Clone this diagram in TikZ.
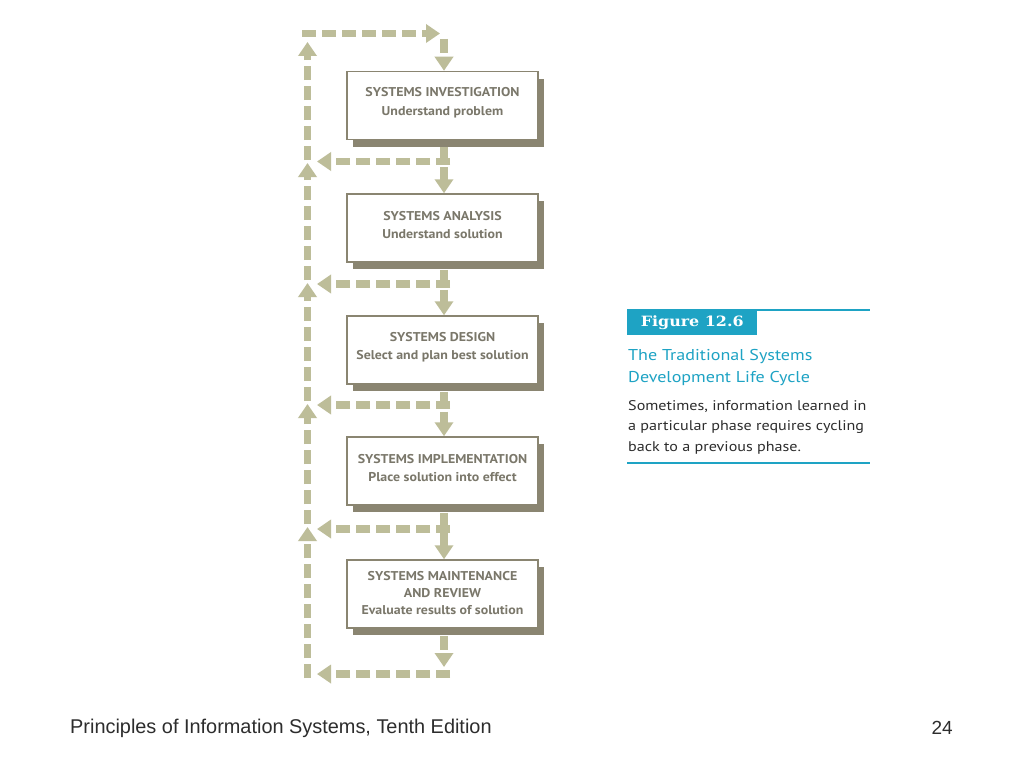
\documentclass[tikz,border=0pt]{standalone}
\usepackage{fontspec}
\setmainfont{PT Sans}
\newfontfamily\boxfont[FakeStretch=1.09]{PT Sans}
\newfontfamily\panelfont[FakeStretch=1.15]{PT Sans}
\newfontfamily\figfont[FakeStretch=1.12]{DejaVu Serif}
\newfontfamily\footfont{Liberation Sans}
\usetikzlibrary{arrows.meta,shadows}
\definecolor{flowc}{RGB}{189,189,153}
\definecolor{boxc}{RGB}{138,133,113}
\definecolor{txtc}{RGB}{122,119,106}
\definecolor{tealc}{RGB}{30,163,196}
\definecolor{bodyc}{RGB}{45,45,45}
\begin{document}
\begin{tikzpicture}[x=1pt,y=-1pt,
  flow/.style={draw=flowc,line width=7.5pt,dash pattern=on 14pt off 6pt,
    -{Triangle[width=18pt,length=14pt,fill=flowc]}},
  phase/.style={draw=boxc,line width=1.5pt,fill=white,minimum width=191pt,
    minimum height=68pt,inner sep=0pt,
    drop shadow={shadow xshift=6pt,shadow yshift=-7pt,fill=boxc,opacity=1}},
  phasetext/.style={inner sep=0pt,align=center,text=txtc,
    font=\boxfont\bfseries\fontsize{12.75}{18.5}\selectfont},
  panel/.style={anchor=base west,inner sep=0pt},
  rule/.style={draw=tealc}
  ]
\useasboundingbox (0,0) rectangle (1024,768);
\fill[white] (0,0) rectangle (1024,768);

% phase boxes
\node[phase] (b1) at (442.5,105.5) {};
\node[phase] (b2) at (442.5,228) {};
\node[phase] (b3) at (442.5,350) {};
\node[phase] (b4) at (442.5,471) {};
\node[phase] (b5) at (442.5,594) {};
\node[phasetext] (x1) at ([yshift=3pt]b1.center) {SYSTEMS INVESTIGATION\\Understand problem};
\node[phasetext] (x2) at ([yshift=3pt]b2.center) {SYSTEMS ANALYSIS\\Understand solution};
\node[phasetext] (x3) at ([yshift=3pt]b3.center) {SYSTEMS DESIGN\\Select and plan best solution};
\node[phasetext] (x4) at ([yshift=3pt]b4.center) {SYSTEMS IMPLEMENTATION\\Place solution into effect};
\node[phasetext] (x5) at ([yshift=1pt]b5.center) {SYSTEMS MAINTENANCE\\[-1.5pt]AND REVIEW\\[-1pt]Evaluate results of solution};

% coordinates of the loop
\coordinate (tl) at (302,33.5);
\coordinate (tr) at (440,33.5);
\coordinate (td) at (444,39);
\coordinate (bd) at (444,667);
\foreach \i/\y in {1/161.5,2/284,3/405,4/529,5/674}{
  \coordinate (hr\i) at (450,\y);
  \coordinate (hl\i) at (317,\y);
}
\coordinate (v5s) at (307.5,678);
\coordinate (v5e) at (307.5,527);
\coordinate (v4s) at (307.5,524);
\coordinate (v4e) at (307.5,404);
\coordinate (v3s) at (307.5,401);
\coordinate (v3e) at (307.5,283);
\coordinate (v2s) at (307.5,280);
\coordinate (v2e) at (307.5,163);
\coordinate (v1s) at (307.5,160);
\coordinate (v1e) at (307.5,42);

% forward flow
\draw[flow] (tl) -- (tr);
\draw[flow] (td) -- ([xshift=1.5pt]b1.north);
\draw[flow] ([xshift=1.5pt,yshift=-7pt]b1.south) -- ([xshift=1.5pt]b2.north);
\draw[flow] ([xshift=1.5pt,yshift=-7pt]b2.south) -- ([xshift=1.5pt]b3.north);
\draw[flow] ([xshift=1.5pt,yshift=-7pt]b3.south) -- ([xshift=1.5pt]b4.north);
\draw[flow] ([xshift=1.5pt,yshift=-7pt]b4.south) -- ([xshift=1.5pt]b5.north);
\draw[flow] ([xshift=1.5pt,yshift=-7pt]b5.south) -- (bd);

% feedback flow
\foreach \i in {1,...,5}{ \draw[flow] (hr\i) -- (hl\i); }
\foreach \i in {1,...,5}{ \draw[flow] (v\i s) -- (v\i e); }

% caption panel
\node[fill=tealc,minimum width=130pt,minimum height=26pt,inner sep=0pt,
  anchor=north west,text=white,font=\figfont\bfseries\fontsize{14.2}{16}\selectfont]
  (figlbl) at (627,309) {Figure 12.6};
\coordinate (topR) at (870,310);
\draw[rule,line width=1.5pt] ([yshift=-1pt]figlbl.north east) -- (topR);
\node[panel,text=tealc,font=\panelfont\fontsize{15.7}{20}\selectfont] (t1) at (628,360) {The Traditional Systems};
\node[panel,text=tealc,font=\panelfont\fontsize{15.7}{20}\selectfont] (t2) at (628,382) {Development Life Cycle};
\node[panel,text=bodyc,font=\panelfont\fontsize{14}{18}\selectfont] (p1) at (628,410) {Sometimes, information learned in};
\node[panel,text=bodyc,font=\panelfont\fontsize{14}{18}\selectfont] (p2) at (628,430.5) {a particular phase requires cycling};
\node[panel,text=bodyc,font=\panelfont\fontsize{14}{18}\selectfont] (p3) at (628,451) {back to a previous phase.};
\coordinate (botL) at (627,463);
\coordinate (botR) at (870,463);
\draw[rule,line width=2pt] (botL) -- (botR);

% footer
\node[panel,text=bodyc,font=\footfont\fontsize{19.9}{22}\selectfont] (foot) at (70,733) {Principles of Information Systems, Tenth Edition};
\node[anchor=base east,inner sep=0pt,text=bodyc,font=\footfont\fontsize{19}{20}\selectfont] (pg) at (953,734) {24};
\end{tikzpicture}
\end{document}
